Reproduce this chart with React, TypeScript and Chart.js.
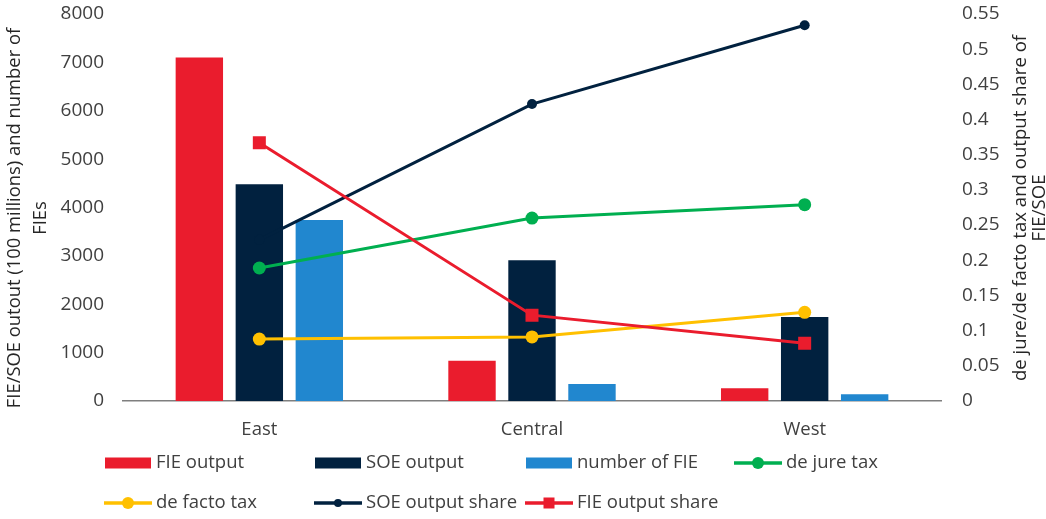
import React, { useEffect, useRef } from "react";
import { Chart, registerables } from "chart.js";

Chart.register(...registerables);

const categories = ["East", "Central", "West"];
const fieOutput = [7100, 833, 262];
const soeOutput = [4480, 2908, 1736];
const fieNumber = [3742, 351, 138];
const deJureTax = [0.189, 0.26, 0.279];
const deFactoTax = [0.088, 0.091, 0.126];
const soeShare = [0.229, 0.422, 0.534];
const fieShare = [0.367, 0.122, 0.082];
const leftTickValues = [0, 1000, 2000, 3000, 4000, 5000, 6000, 7000, 8000];
const rightTickValues = [0, 0.05, 0.1, 0.15, 0.2, 0.25, 0.3, 0.35, 0.4, 0.45, 0.5, 0.55];
const leftTitle = ["FIE/SOE outout (100 millions) and number of", "FIEs"];
const rightTitle = ["de jure/de facto tax and output share of", "FIE/SOE"];

const RED = "#EA1C2D";
const NAVY = "#01213F";
const BLUE = "#2187CF";
const GREEN = "#00AF50";
const YELLOW = "#FFC000";
const TEXT = "#404040";
const FONT = "'Open Sans', sans-serif";

const titlePlugin = {
  id: "axisTitles",
  afterDraw(chart: any) {
    const ctx = chart.ctx;
    ctx.save();
    ctx.fillStyle = "#262626";
    ctx.textAlign = "center";
    ctx.textBaseline = "middle";
    const drawRot = (lines: string[], xs: number[], cy: number, size: number) => {
      ctx.font = `${size}px ${FONT}`;
      lines.forEach((t, i) => {
        ctx.save();
        ctx.translate(xs[i], cy);
        ctx.rotate(-Math.PI / 2);
        ctx.fillText(t, 0, 0);
        ctx.restore();
      });
    };
    drawRot(leftTitle, [15, 41], 218, 18.4);
    drawRot(rightTitle, [1021, 1040], 208, 18.6);
    ctx.restore();
  },
};

const legendPlugin = {
  id: "customLegend",
  afterDraw(chart: any) {
    const ctx = chart.ctx;
    const cols = [104, 314, 525, 734];
    const rows = [463, 503];
    ctx.save();
    ctx.font = `18.5px ${FONT}`;
    ctx.textBaseline = "middle";
    ctx.textAlign = "left";
    chart.data.datasets.forEach((ds: any, i: number) => {
      const x = cols[i % 4];
      const y = rows[Math.floor(i / 4)];
      if (ds.type === "bar") {
        ctx.fillStyle = ds.backgroundColor;
        ctx.fillRect(x + 1, y - 5.5, 46, 11);
      } else {
        ctx.strokeStyle = ds.borderColor;
        ctx.lineWidth = 3.5;
        ctx.beginPath();
        ctx.moveTo(x, y);
        ctx.lineTo(x + 48, y);
        ctx.stroke();
        ctx.fillStyle = ds.pointBackgroundColor;
        const cx = x + 24;
        if (ds.pointStyle === "rect") {
          ctx.fillRect(cx - 5.5, y - 5.5, 11, 11);
        } else {
          ctx.beginPath();
          ctx.arc(cx, y, ds.legendRadius, 0, Math.PI * 2);
          ctx.fill();
        }
      }
      ctx.fillStyle = TEXT;
      ctx.fillText(ds.label, x + 52, y);
    });
    ctx.restore();
  },
};

export default function App() {
  const ref = useRef<HTMLCanvasElement | null>(null);
  useEffect(() => {
    if (!ref.current) return;
    const lineDs = (label: string, data: number[], color: string, style: string, radius: number, legendRadius: number, order: number) => ({
      type: "line" as const,
      label,
      data,
      yAxisID: "y2",
      borderColor: color,
      backgroundColor: color,
      pointBackgroundColor: color,
      pointBorderColor: color,
      pointStyle: style,
      pointRadius: radius,
      pointBorderWidth: 0,
      borderWidth: 3,
      tension: 0,
      order,
      legendRadius,
    });
    const barDs = (label: string, data: number[], color: string) => ({
      type: "bar" as const,
      label,
      data,
      yAxisID: "y",
      backgroundColor: color,
      borderWidth: 0,
      categoryPercentage: 0.66,
      barPercentage: 0.79,
      order: 5,
    });
    const chart = new Chart(ref.current, {
      type: "bar",
      data: {
        labels: categories,
        datasets: [
          barDs("FIE output", fieOutput, RED),
          barDs("SOE output", soeOutput, NAVY),
          barDs("number of FIE", fieNumber, BLUE),
          lineDs("de jure tax", deJureTax, GREEN, "circle", 6.5, 6, 2),
          lineDs("de facto tax", deFactoTax, YELLOW, "circle", 6.5, 6, 2),
          lineDs("SOE output share", soeShare, NAVY, "circle", 5, 4, 2),
          lineDs("FIE output share", fieShare, RED, "rect", 9.2, 5.5, 1),
        ] as any,
      },
      options: {
        animation: false,
        responsive: true,
        maintainAspectRatio: false,
        layout: { padding: { top: 14, bottom: 79, left: 0, right: 0 } },
        plugins: { legend: { display: false }, tooltip: { enabled: false } },
        scales: {
          x: {
            grid: { display: false, drawTicks: false },
            border: { display: true, color: "#7F7F7F", width: 1.5 },
            ticks: { color: TEXT, font: { family: FONT, size: 18.5 }, padding: 18 },
            afterFit(scale: any) {
              scale.height = 39;
              scale.paddingLeft = 0;
              scale.paddingRight = 0;
            },
          },
          y: {
            position: "left",
            min: 0,
            max: 8000,
            grid: { display: false, drawTicks: false },
            border: { display: false },
            ticks: {
              color: TEXT,
              font: { family: FONT, size: 19 },
              padding: 19,
              callback: (v: any) => String(v),
            },
            afterBuildTicks(scale: any) {
              scale.ticks = leftTickValues.map((v) => ({ value: v }));
            },
            afterFit(scale: any) {
              scale.width = 123;
              scale.paddingTop = 0;
              scale.paddingBottom = 0;
            },
          },
          y2: {
            position: "right",
            min: 0,
            max: 0.55,
            grid: { display: false, drawTicks: false },
            border: { display: false },
            ticks: {
              color: TEXT,
              font: { family: FONT, size: 19 },
              padding: 21,
              callback: (v: any) => String(Number(Number(v).toFixed(2))),
            },
            afterBuildTicks(scale: any) {
              scale.ticks = rightTickValues.map((v) => ({ value: v }));
            },
            afterFit(scale: any) {
              scale.width = 105;
              scale.paddingTop = 0;
              scale.paddingBottom = 0;
            },
          },
        },
      },
      plugins: [titlePlugin, legendPlugin],
    });
    return () => chart.destroy();
  }, []);
  return (
    <div style={{ position: "fixed", left: 0, top: 0, width: 1046, height: 519, background: "#fff" }}>
      <canvas ref={ref} />
    </div>
  );
}
